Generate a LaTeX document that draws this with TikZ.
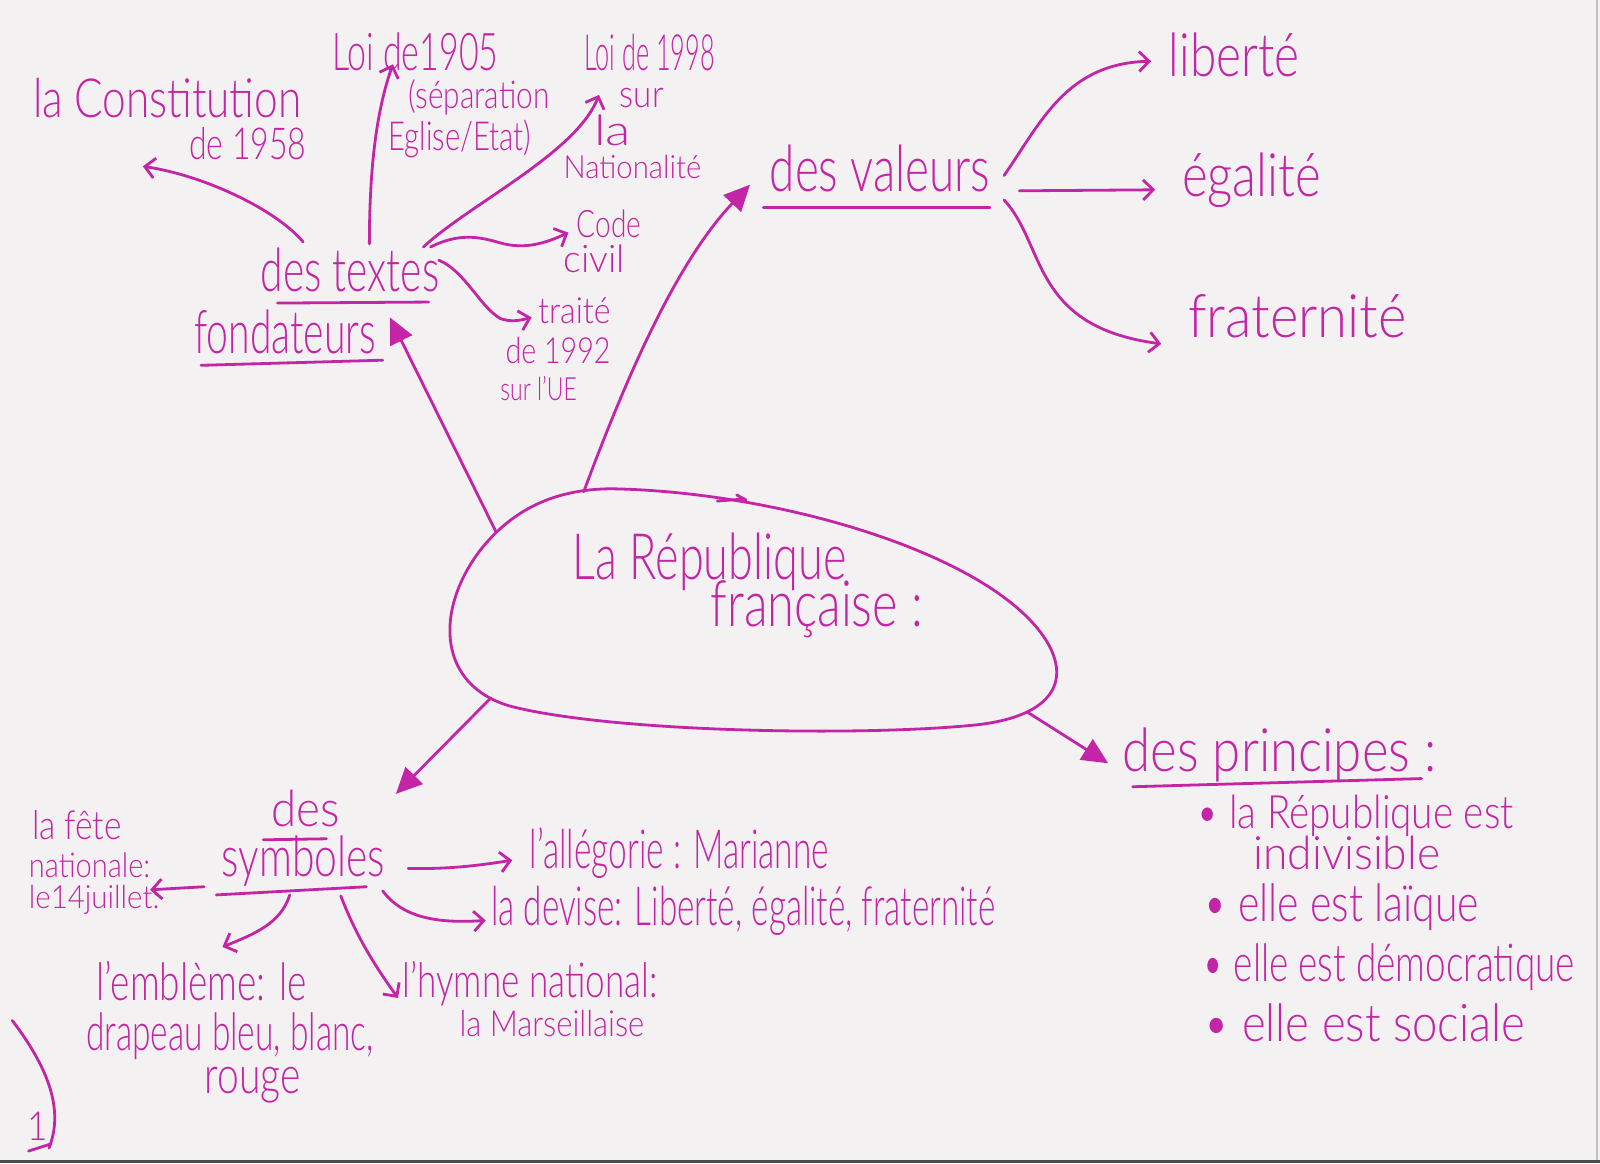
\documentclass[tikz,border=0pt]{standalone}
\usepackage{fontspec}
\setmainfont{Lato}[UprightFont={* Light}]
\usetikzlibrary{arrows.meta}
\definecolor{pen}{RGB}{196,36,166}
\definecolor{paper}{RGB}{243,241,241}
\newlength\U \setlength\U{0.5102pt}
\newcommand\hw[3]{{\fontsize{#1pt}{#1pt}\selectfont\resizebox{#2\U}{\height}{#3}}}
\tikzset{
  link/.style={draw=pen, line width=1.4pt, line cap=round, line join=round},
  barb/.style={link, -{Straight Barb[length=5pt,width=10pt,line width=1.4pt]}},
  bigtip/.style={link, -{Triangle[length=13pt,width=12pt]}},
  txt/.style={text=pen, inner sep=0pt, anchor=base west},
  uline/.style={link}
}
\begin{document}
\begin{tikzpicture}[x=0.5102pt,y=-0.5102pt]
\useasboundingbox (0,0) rectangle (1568,1140);
\fill[paper] (0,0) rectangle (1568,1140);
\fill[black!70] (0,1137) rectangle (1568,1140);
\draw[black!25, line width=0.6pt] (1565,0) -- (1565,1137);

% ---------- central blob ----------
\draw[link] (600,479) .. controls (760,482) and (960,540) .. (1020,620)
  .. controls (1050,660) and (1040,700) .. (960,710)
  .. controls (850,722) and (600,718) .. (500,692)
  .. controls (430,672) and (425,600) .. (470,540)
  .. controls (505,495) and (550,479) .. (600,479) -- cycle;
\draw[link] (703,491) -- (730,489);
\draw[link] (722,485) -- (731,490);
\node[txt] (rep1) at (561,568) {\hw{32}{268}{La République}};
\node[txt] (rep2) at (696,614) {\hw{32}{208}{française :}};

% ---------- des textes fondateurs ----------
\node[txt] (textes) at (255,286) {\hw{30}{175}{des textes}};
\node[txt] (fond) at (190,346) {\hw{30}{178}{fondateurs}};
\draw[uline] (272,297) -- (420,296);
\draw[uline] (197,358) -- (375,353);

\node[txt] (con) at (32,115) {\hw{27}{263}{la Constitution}};
\node[txt] (con2) at (185,156) {\hw{22}{115}{de 1958}};
\node[txt] (l05a) at (325,69) {\hw{26}{163}{Loi de1905}};
\node[txt] (l05b) at (400,106) {\hw{19}{138}{(séparation}};
\node[txt] (l05c) at (380,147) {\hw{20}{140}{Eglise/Etat)}};
\node[txt] (l98a) at (572,69) {\hw{25}{128}{Loi de 1998}};
\node[txt] (l98b) at (607,105) {\hw{19}{43}{sur}};
\node[txt] (l98c) at (582,143) {\hw{21}{36}{la}};
\node[txt] (l98d) at (552,175) {\hw{16}{135}{Nationalité}};
\node[txt] (code) at (565,233) {\hw{19}{63}{Code}};
\node[txt] (civil) at (552,267) {\hw{19}{60}{civil}};
\node[txt] (tr1) at (527,317) {\hw{18}{71}{traité}};
\node[txt] (tr2) at (495,356) {\hw{18}{103}{de 1992}};
\node[txt] (tr3) at (490,392) {\hw{16}{75}{sur l'UE}};

\coordinate (tA) at (297,237); \coordinate (hA) at (140,163);
\coordinate (tB) at (362,239); \coordinate (hB) at (385,63);
\coordinate (tC) at (415,242); \coordinate (hC) at (587,93);
\coordinate (tD) at (422,242); \coordinate (hD) at (557,228);
\coordinate (tE) at (430,255); \coordinate (hE) at (521,311);
\draw[barb] (tA) .. controls (270,205) and (200,172) .. (hA);
\draw[barb] (tB) .. controls (362,150) and (372,100) .. (hB);
\draw[barb] (tC) .. controls (460,200) and (565,150) .. (hC);
\draw[barb] (tD) .. controls (450,228) and (470,232) .. (490,238) .. controls (515,245) and (535,238) .. (hD);
\draw[barb] (tE) .. controls (455,265) and (470,300) .. (490,312) .. controls (500,316) and (510,314) .. (hE);

% ---------- des valeurs ----------
\node[txt] (val) at (754,188) {\hw{32}{216}{des valeurs}};
\draw[uline] (748,203) -- (970,203);
\node[txt] (lib) at (1145,75) {\hw{30}{128}{liberté}};
\node[txt] (ega) at (1158,193) {\hw{30}{136}{égalité}};
\node[txt] (frat) at (1164,331) {\hw{30}{214}{fraternité}};
\coordinate (vH) at (984,172); \coordinate (hH) at (1128,60);
\coordinate (vI) at (999,187); \coordinate (hI) at (1132,186);
\coordinate (vJ) at (984,196); \coordinate (hJ) at (1138,337);
\draw[barb] (vH) .. controls (1020,120) and (1045,62) .. (hH);
\draw[barb] (vI) -- (hI);
\draw[barb] (vJ) .. controls (1025,240) and (1010,320) .. (hJ);

% ---------- main branches ----------
\coordinate (eF) at (486,521); \coordinate (hF) at (382,311);
\coordinate (eG) at (572,482); \coordinate (hG) at (735,181);
\coordinate (eK) at (481,684); \coordinate (hK) at (388,778);
\coordinate (eL) at (1007,698); \coordinate (hL) at (1086,748);
\draw[bigtip] (eF) -- (hF);
\draw[bigtip] (eG) .. controls (610,380) and (660,260) .. (hG);
\draw[bigtip] (eK) -- (hK);
\draw[bigtip] (eL) -- (hL);

% ---------- des symboles ----------
\node[txt] (des) at (266,810) {\hw{25}{67}{des}};
\node[txt] (sym) at (217,859) {\hw{28}{160}{symboles}};
\draw[uline] (258,823) -- (320,822);
\draw[uline] (212,877) -- (359,869);
\node[txt] (fete1) at (31,823) {\hw{20}{88}{la fête}};
\node[txt] (fete2) at (28,860) {\hw{17}{119}{nationale:}};
\node[txt] (fete3) at (28,890) {\hw{16}{128}{le14juillet:}};
\node[txt] (alle) at (519,851) {\hw{27}{293}{l'allégorie : Marianne}};
\node[txt] (dev) at (481,907) {\hw{27}{494}{la devise: Liberté, égalité, fraternité}};
\node[txt] (emb1) at (94,980) {\hw{26}{206}{l'emblème: le}};
\node[txt] (emb2) at (84,1029) {\hw{26}{282}{drapeau bleu, blanc,}};
\node[txt] (emb3) at (200,1072) {\hw{26}{94}{rouge}};
\node[txt] (hym1) at (394,978) {\hw{24}{250}{l'hymne national:}};
\node[txt] (hym2) at (450,1016) {\hw{18}{181}{la Marseillaise}};
\coordinate (sM) at (200,869); \coordinate (hM) at (147,872);
\coordinate (sN) at (400,851); \coordinate (hN) at (502,843);
\coordinate (sO) at (375,873); \coordinate (hO) at (476,902);
\coordinate (sP) at (284,877); \coordinate (hP) at (218,928);
\coordinate (sQ) at (334,878); \coordinate (hQ) at (390,978);
\draw[barb] (sM) -- (hM);
\draw[barb] (sN) .. controls (440,852) and (470,848) .. (hN);
\draw[barb] (sO) .. controls (395,900) and (430,905) .. (hO);
\draw[barb] (sP) .. controls (275,905) and (250,915) .. (hP);
\draw[barb] (sQ) .. controls (350,920) and (370,950) .. (hQ);

% ---------- des principes ----------
\node[txt] (pri) at (1100,756) {\hw{30}{307}{des principes :}};
\draw[uline] (1110,771) -- (1393,763);
\node[txt] (b1) at (1172,812) {\hw{23}{311}{• la République est}};
\node[txt] (b1b) at (1228,852) {\hw{23}{183}{indivisible}};
\node[txt] (b2) at (1179,903) {\hw{26}{270}{• elle est laïque}};
\node[txt] (b3) at (1178,962) {\hw{26}{365}{• elle est démocratique}};
\node[txt] (b4) at (1179,1021) {\hw{26}{315}{• elle est sociale}};

% ---------- page number ----------
\node[txt] (one) at (27,1118) {\hw{20}{20}{1}};
\draw[uline] (28,1128) -- (50,1121);
\draw[link] (12,1000) .. controls (50,1050) and (62,1090) .. (48,1125);
\end{tikzpicture}
\end{document}
